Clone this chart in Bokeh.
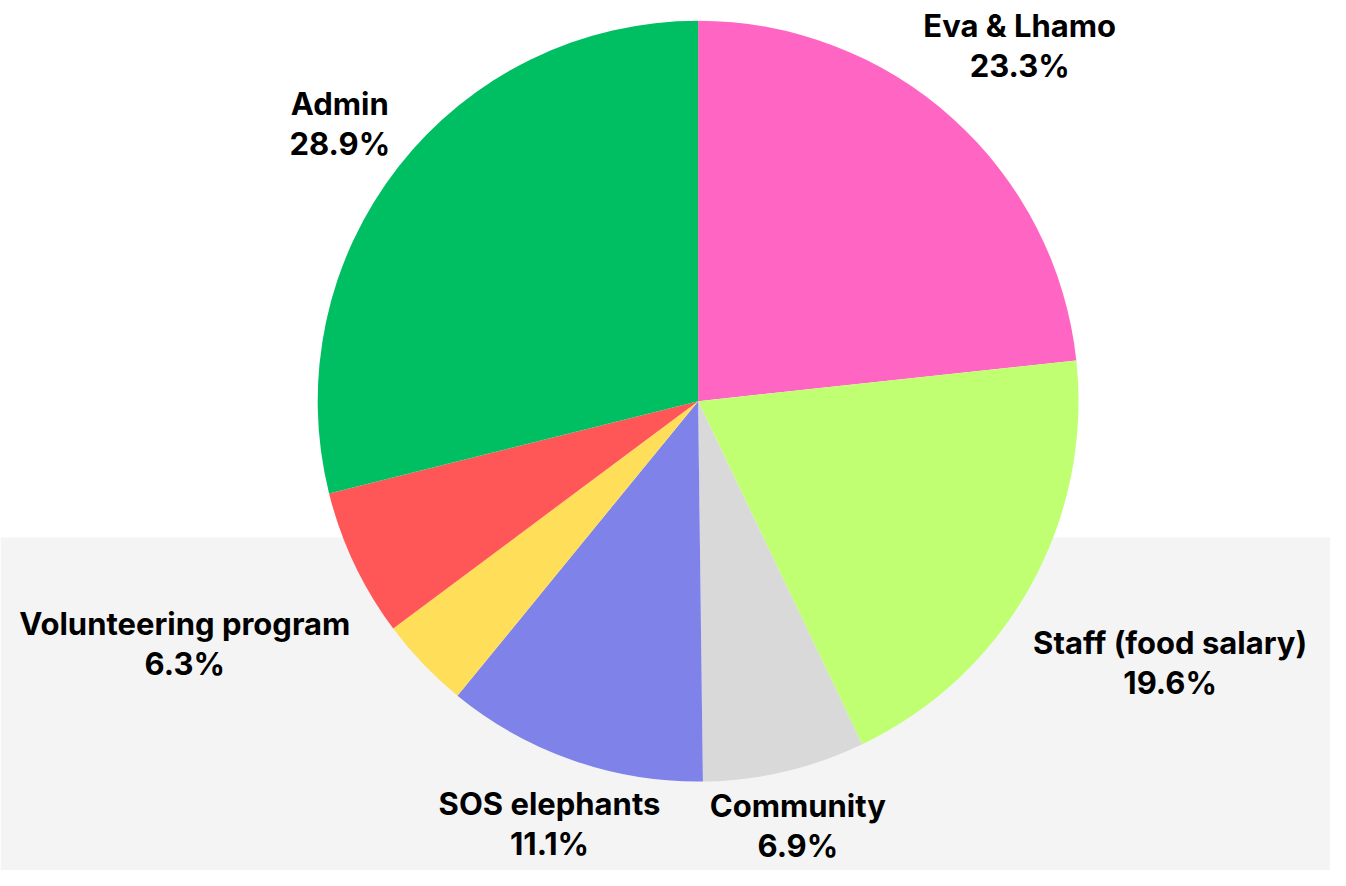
import math
from bokeh.plotting import figure
from bokeh.models import ColumnDataSource, Range1d
from bokeh.core.properties import value
from bokeh.embed import file_html
from bokeh.resources import INLINE

# ---- data ----
categories = ["Eva & Lhamo", "Staff (food salary)", "Community", "SOS elephants",
              "Other", "Volunteering program", "Admin"]
shares = [23.3, 19.6, 6.9, 11.1, 3.9, 6.3, 28.9]
show_label = [True, True, True, True, False, True, True]
colors = ["#FF66C4", "#C1FF72", "#D9D9D9", "#7F82E8", "#FFDE59", "#FF5757", "#00BF63"]

# ---- layout (reference pixel space) ----
W, H = 1346, 886
CX, CY_TOP = 706, 408
CY = H - CY_TOP
R = 385
label_dist = [487, 547, 444, 456, 0, 575, 460]

total = sum(shares)
starts, ends, mids = [], [], []
cum = 0.0
for s in shares:
    a0 = math.pi / 2 - cum / total * 2 * math.pi
    cum += s
    a1 = math.pi / 2 - cum / total * 2 * math.pi
    starts.append(a0)
    ends.append(a1)
    mids.append((a0 + a1) / 2)

p = figure(width=1330, height=870, output_backend="svg", toolbar_location=None,
           x_range=Range1d(0, W), y_range=Range1d(0, H),
           min_border=0)
p.axis.visible = False
p.grid.visible = False
p.outline_line_color = None
p.background_fill_color = "white"
p.border_fill_color = "white"

# grey lower band
p.quad(left=[0], right=[W], bottom=[0], top=[H - 547], fill_color="#F4F4F4", line_color=None)

src = ColumnDataSource(dict(start=starts, end=ends, color=colors, cat=categories))
p.wedge(x=CX, y=CY, radius=R, start_angle="start", end_angle="end", direction="clock",
        fill_color="color", line_color=None, source=src)

lx, ly, names, pcts = [], [], [], []
for i, c in enumerate(categories):
    if not show_label[i]:
        continue
    d = label_dist[i]
    lx.append(CX + d * math.cos(mids[i]))
    ly.append(CY + d * math.sin(mids[i]))
    names.append(c)
    pcts.append(f"{shares[i]:.1f}%")

lsrc = ColumnDataSource(dict(x=lx, y=ly, name=names, pct=pcts))
common = dict(text_font=value("Inter"), text_font_style="bold", text_font_size="31px",
              text_color="black", text_align="center", text_baseline="middle", source=lsrc)
p.text(x="x", y="y", text="name", y_offset=-20, **common)
p.text(x="x", y="y", text="pct", y_offset=20, **common)

open("out.html", "w").write(file_html(p, INLINE))
